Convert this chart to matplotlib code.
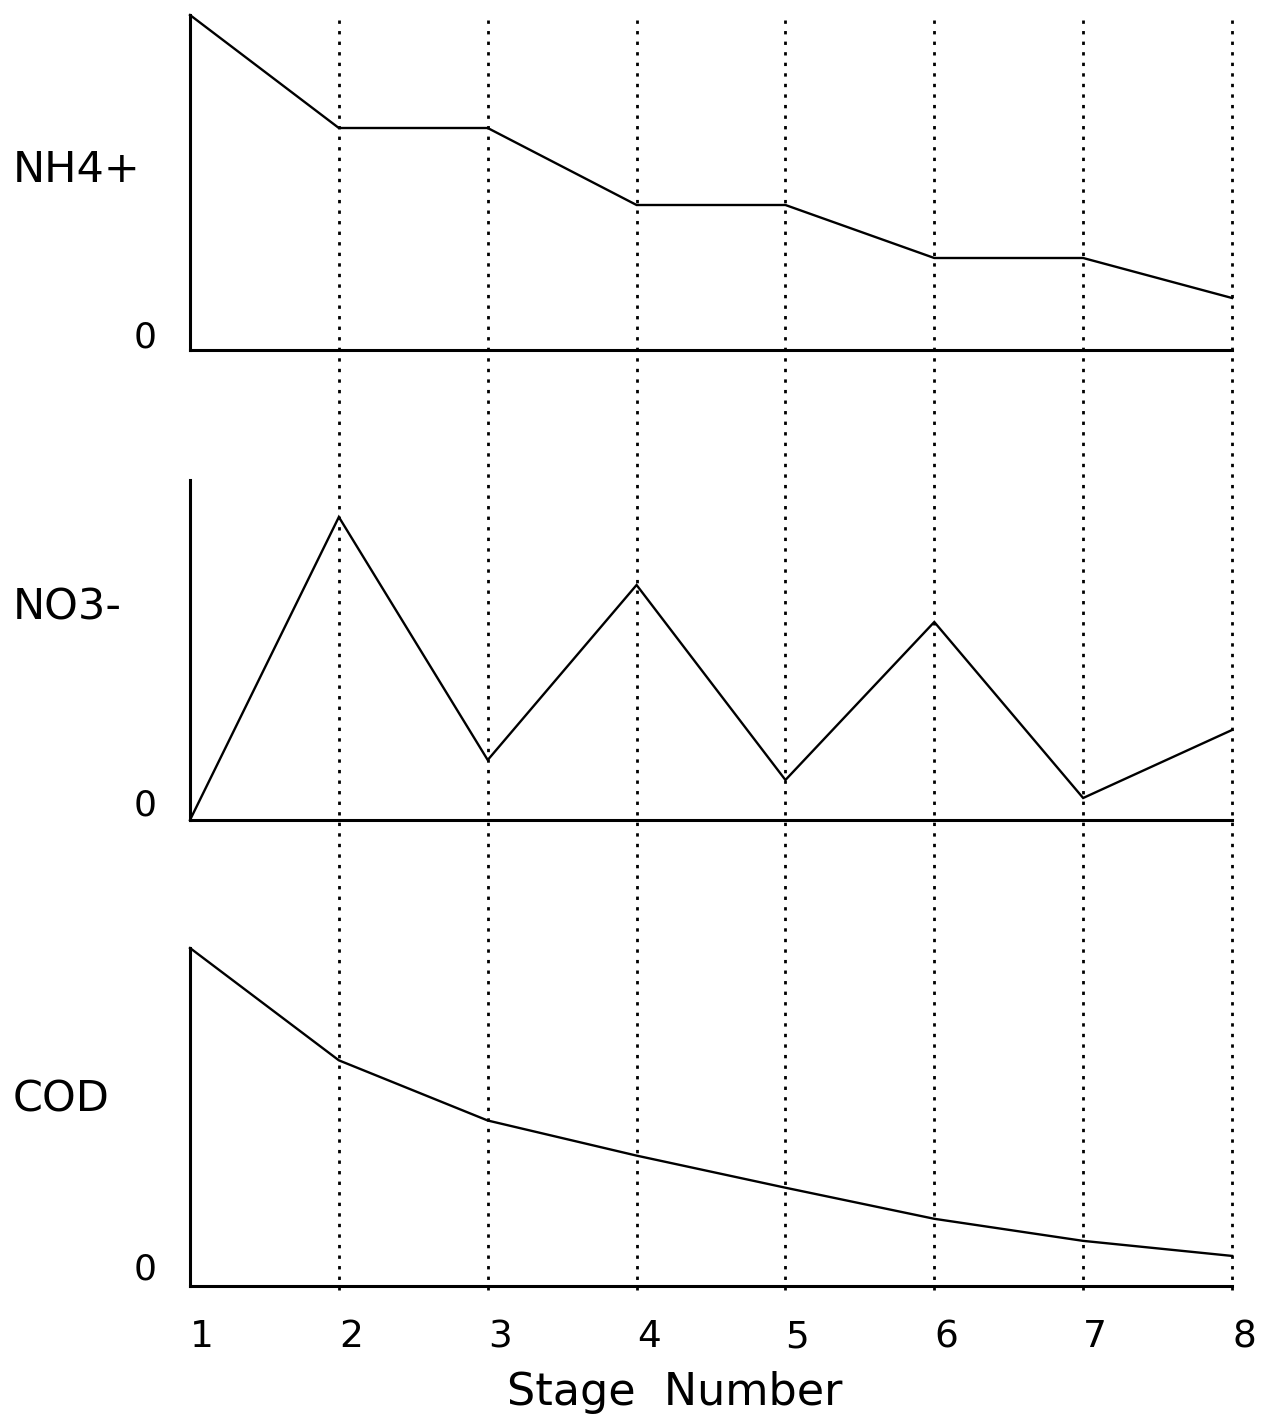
import matplotlib.pyplot as plt

# Data (relative units, each panel top = ymax)
stages = [1, 2, 3, 4, 5, 6, 7, 8]
nh4 = [335, 222, 222, 145, 145, 92, 92, 52]
no3 = [0, 303, 60, 235, 40, 198, 22, 90]
cod = [337, 225, 165, 130, 98, 67, 45, 30]
panel_tops = [335, 340, 337]
labels = ["NH4+", "NO3-", "COD"]

W, H = 1262, 1423
fig = plt.figure(figsize=(W / 100, H / 100), dpi=100)
plt.rcParams['font.family'] = ['DejaVu Sans']

x0, x1 = 190, 1232
left = x0 / W
width = (x1 - x0) / W

# (top px, bottom px) of each panel
panels = [(15, 350), (480, 820), (948, 1286)]
series = [nh4, no3, cod]
label_y = [170, 608, 1100]
zero_y = [338, 805, 1270]

for (top, bot), vals, ymax, lab, ly, zy in zip(panels, series, panel_tops, labels, label_y, zero_y):
    ax = fig.add_axes([left, 1 - bot / H, width, (bot - top) / H])
    ax.plot(stages, vals, color="black", lw=1.7, solid_joinstyle="miter", clip_on=False)
    ax.set_xlim(1, 8)
    ax.set_ylim(0, ymax)
    for s in ["top", "right"]:
        ax.spines[s].set_visible(False)
    for s in ["left", "bottom"]:
        ax.spines[s].set_linewidth(2.2)
    ax.set_xticks([])
    ax.set_yticks([])
    ax.patch.set_alpha(0)
    fig.text(13 / W, 1 - ly / H, lab, fontsize=31, ha="left", va="center")
    fig.text(157 / W, 1 - zy / H, "0", fontsize=26, ha="right", va="center")

# dotted guide lines across all panels
ov = fig.add_axes([left, 1 - 1290 / H, width, (1290 - 18) / H])
ov.set_xlim(1, 8)
ov.set_ylim(0, 1)
ov.axis("off")
ov.vlines(stages[1:], 0, 1, colors="black", lw=2.0, linestyles=(0, (1.2, 2.6)),
          clip_on=False)

# stage tick labels
for s in stages:
    xf = (x0 + (s - 1) * (x1 - x0) / 7 + 12) / W
    fig.text(xf, 1 - 1337 / H, str(s), fontsize=27, ha="center", va="center")

fig.text(675 / W, 1 - 1392 / H, "Stage  Number", fontsize=32, ha="center", va="center")

fig.savefig("out.png", dpi=100)
